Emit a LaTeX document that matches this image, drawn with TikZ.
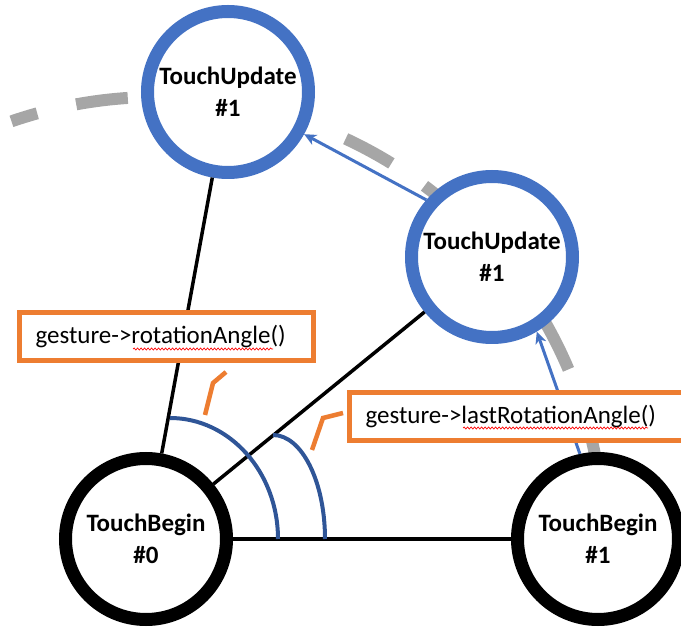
\documentclass[tikz,border=0pt]{standalone}
\usepackage{fontspec}
\setmainfont{Carlito}
\usepackage{xcolor}
\usetikzlibrary{positioning,arrows.meta,backgrounds,decorations.pathmorphing}

\definecolor{touchblue}{RGB}{68,114,196}
\definecolor{anglenavy}{RGB}{47,85,151}
\definecolor{noteorange}{RGB}{237,125,49}
\definecolor{trackgray}{RGB}{166,166,166}

\begin{document}
\begin{tikzpicture}[x=1pt,y=1pt,on grid,
  touch/.style={circle,draw,fill=white,line width=13pt,minimum size=161pt,inner sep=0pt,
    align=center,font=\bfseries\fontsize{25}{32}\selectfont},
  touchbegin/.style={touch,draw=black},
  touchupdate/.style={touch,draw=touchblue},
  link/.style={line width=3.5pt},
  move/.style={draw=touchblue,line width=3pt,-{Stealth[length=12pt,width=11pt,inset=3.5pt]}},
  track/.style={draw=trackgray,line width=12pt,dash pattern=on 52pt off 40pt,dash phase=25pt},
  sweep/.style={draw=anglenavy,line width=4pt},
  pointer/.style={draw=noteorange,line width=4.5pt},
  note/.style={draw=noteorange,fill=white,line width=5pt,minimum height=48pt,inner xsep=16pt,
    align=left,font=\fontsize{25}{30}\selectfont},
  spell/.style={draw=red,line width=0.7pt,decorate,decoration={snake,amplitude=1pt,segment length=3.5pt}}]

  \useasboundingbox (0,0) rectangle (681,630);

  \node[touchbegin] (TB0) at (146,91) {TouchBegin\\\#0};
  \node[touchbegin] (TB1) [right=452pt of TB0] {TouchBegin\\\#1};
  \node[touchupdate] (TU0) [above right=447pt and 82pt of TB0] {TouchUpdate\\\#1};
  \node[touchupdate] (TU1) [above right=282pt and 346pt of TB0] {TouchUpdate\\\#1};

  % path of the second finger
  \begin{scope}[on background layer]
    \draw[track] (157,86) ++(109:447) arc[start angle=109,end angle=11,radius=447];
  \end{scope}

  \path[link]
    (TB0) edge (TU0)
    (TB0) edge (TU1)
    (TB0) edge (TB1);

  \path[move]
    (TB1.102) edge (TU1.-59)
    (TU1.139.5) edge (TU0.-29);

  % angles
  \draw[sweep] ([shift={(24,121)}]TB0.center) arc[start angle=90,end angle=0,x radius=108,y radius=121];
  \draw[sweep] ([shift={(127,104)}]TB0.center) arc[start angle=90,end angle=0,x radius=52,y radius=104];

  \draw[pointer] (205,215) -- (213,247) -- (226,258);
  \draw[pointer] (312,180) -- (323,212) -- (343,217);

  \node[note,text width=262pt] (total) at (166.5,293.5) {gesture->rotationAngle()};
  \node[note,text width=313pt] (last) at (522,213.5) {gesture->lastRotationAngle()};

  % spell check marks
  \draw[spell] ([shift={(-33.5,-12.5)}]total.center) -- ([shift={(106.5,-12.5)}]total.center);
  \draw[spell] ([shift={(-59,-11.5)}]last.center) -- ([shift={(126,-11.5)}]last.center);

\end{tikzpicture}
\end{document}
